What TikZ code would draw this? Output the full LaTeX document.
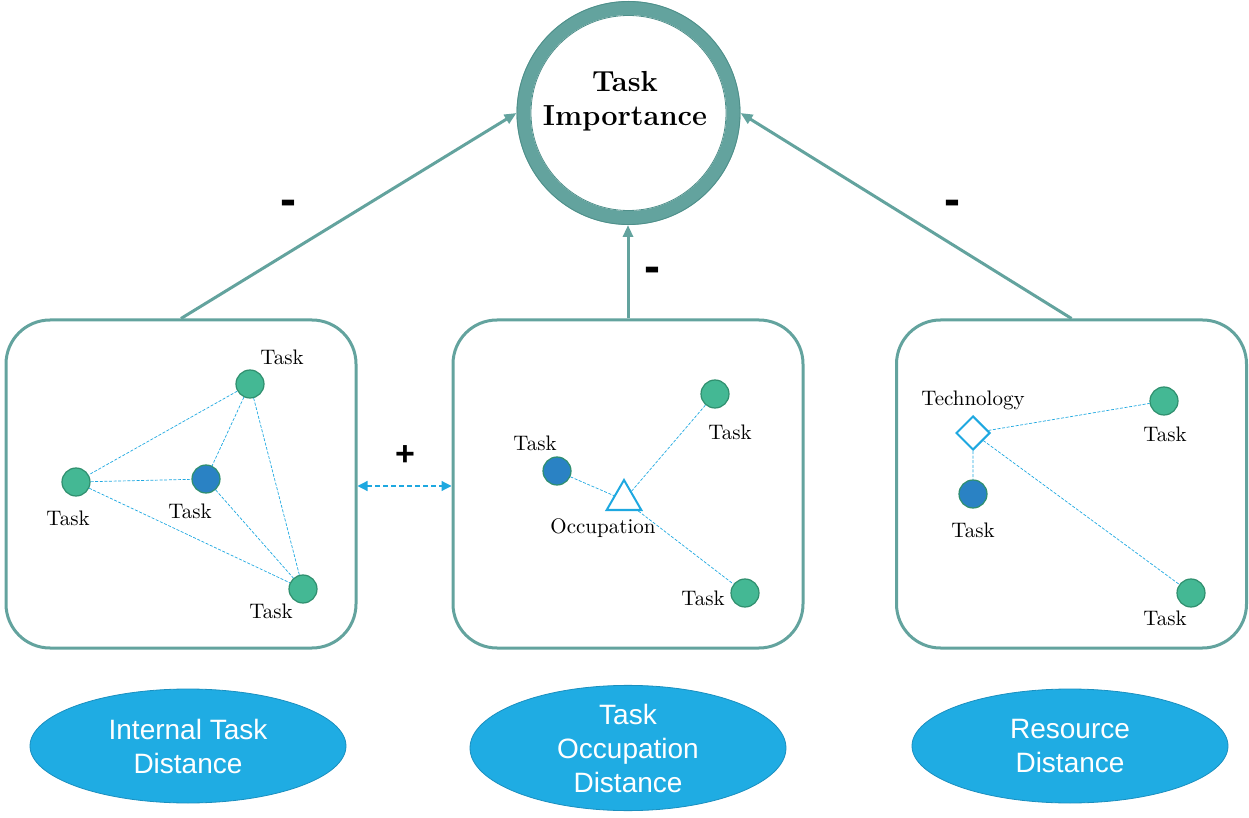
\documentclass[tikz,border=0pt]{standalone}
\usepackage{fontspec}
\newfontfamily\sansf{Liberation Sans}
\usetikzlibrary{shapes.geometric,arrows.meta}
\definecolor{teal1}{HTML}{63A39E}
\definecolor{teal2}{HTML}{4F8F8A}
\definecolor{greenc}{HTML}{44B894}
\definecolor{greene}{HTML}{2F8F6E}
\definecolor{bluec}{HTML}{2A82C4}
\definecolor{cyan1}{HTML}{1EA8E0}
\definecolor{ellc}{HTML}{1FACE3}
\definecolor{elle}{HTML}{1A8FBF}
\tikzset{
  box/.style={draw=teal1, line width=1.5pt, rounded corners=22pt, minimum width=175pt, minimum height=164pt, inner sep=0pt},
  gnode/.style={circle, fill=greenc, draw=greene, line width=0.6pt, minimum size=14pt, inner sep=0pt},
  bnode/.style={circle, fill=bluec, draw=greene, line width=0.6pt, minimum size=14pt, inner sep=0pt},
  lbl/.style={font=\fontsize{10.5}{12}\selectfont, inner sep=0pt},
  link/.style={draw=cyan1, line width=0.35pt, dash pattern=on 1.5pt off 0.8pt},
  tarrow/.style={draw=teal1, line width=1.5pt, -{Triangle[length=6pt,width=5pt]}},
  sign/.style={font=\sansf\bfseries\fontsize{24}{24}\selectfont, inner sep=0pt},
  ell/.style={ellipse, fill=ellc, draw=elle, line width=0.4pt, minimum width=158pt, minimum height=57pt, inner sep=0pt, align=center, text=white, font=\sansf\fontsize{14}{17}\selectfont},
}
\begin{document}
\begin{tikzpicture}[x=0.5pt,y=-0.5pt]
\useasboundingbox (0,0) rectangle (1249,818);
% central circle
\node[circle, draw=teal1, line width=7pt, minimum size=105pt, inner sep=0pt] (imp) at (628.5,113) {};
\draw[teal2, line width=0.4pt] (628.5,113) circle (111.5) (628.5,113) circle (97.5);
\node[font=\bfseries\fontsize{14.5}{17}\selectfont, align=center] (impt) at (625,101) {Task\\Importance};
% boxes
\node[box] (b1) at (181,484) {};
\node[box] (b2) at (628,484) {};
\node[box] (b3) at (1071.5,484) {};
% arrows
\draw[tarrow] (b1.north) -- (imp.west);
\draw[tarrow] (b2.north) -- (b2.north |- imp.south);
\draw[tarrow] (b3.north) -- (imp.east);
\node[sign] (m1) at (288,208) {-};
\node[sign] (m2) at (652,275) {-};
\node[sign] (m3) at (952,208) {-};
\node[sign, font=\sansf\bfseries\fontsize{17}{17}\selectfont] (plus) at (405,456) {+};
\draw[draw=cyan1, line width=0.6pt, dash pattern=on 2.5pt off 1.5pt, {Triangle[length=5pt,width=5pt]}-{Triangle[length=5pt,width=5pt]}] (b1.east |- 0,486) -- (b2.west |- 0,486);
% left box
\node[gnode] (a1) at (250,384) {};
\node[gnode] (a2) at (76,482) {};
\node[bnode] (a3) at (206,479) {};
\node[gnode] (a4) at (303,589) {};
\path[link] (a1) -- (a2) (a1) -- (a3) (a1) -- (a4) (a2) -- (a3) (a2) -- (a4) (a3) -- (a4);
\node[lbl] (la1) at (282,357) {Task};
\node[lbl] (la2) at (68,518) {Task};
\node[lbl] (la3) at (190,511) {Task};
\node[lbl] (la4) at (271,611) {Task};
% middle box
\node[bnode] (c1) at (557,471) {};
\node[gnode] (c2) at (715,394) {};
\node[regular polygon, regular polygon sides=3, draw=cyan1, line width=1pt, minimum size=20pt, inner sep=0pt] (occ) at (624,500) {};
\node[gnode] (c3) at (745,593) {};
\path[link] (c1) -- (occ) (occ) -- (c2) (occ) -- (c3);
\node[lbl] (lc1) at (535,443) {Task};
\node[lbl] (lc2) at (730,432) {Task};
\node[lbl] (locc) at (603,528) {Occupation};
\node[lbl] (lc3) at (703,598) {Task};
% right box
\node[diamond, draw=cyan1, line width=1pt, minimum width=17pt, minimum height=17pt, inner sep=0pt] (tech) at (973,433) {};
\node[gnode] (d1) at (1164,401) {};
\node[bnode] (d2) at (973,494) {};
\node[gnode] (d3) at (1191,593) {};
\path[link] (tech) -- (d1) (tech) -- (d2) (tech) -- (d3);
\node[lbl] (ltech) at (973,400) {Technology};
\node[lbl] (ld1) at (1165,434) {Task};
\node[lbl] (ld2) at (973,530) {Task};
\node[lbl] (ld3) at (1165,618) {Task};
% ellipses
\node[ell] (e1) at (188,746) {Internal Task\\Distance};
\node[ell, minimum height=61pt] (e2) at (628,748) {Task\\Occupation\\Distance};
\node[ell] (e3) at (1070,746) {Resource\\Distance};
\end{tikzpicture}
\end{document}
